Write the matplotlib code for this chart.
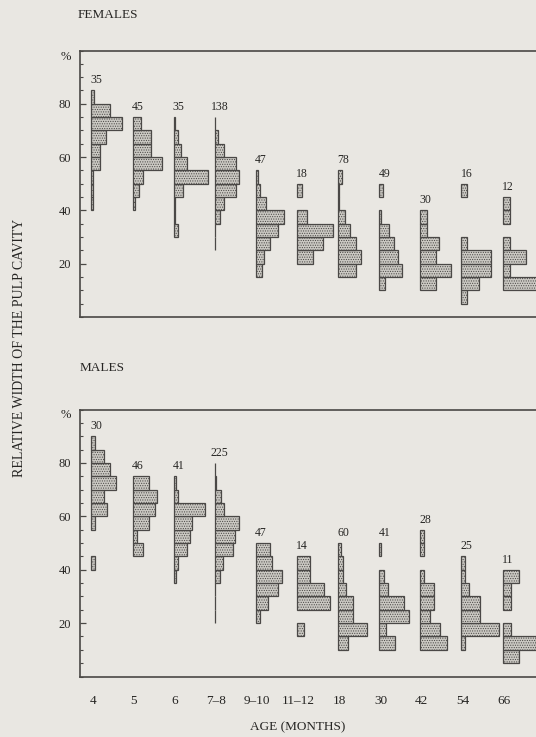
import numpy as np
import matplotlib
matplotlib.use("Agg")
import matplotlib.pyplot as plt
from matplotlib.ticker import MultipleLocator, FixedLocator

# ---------------- data (percent of each age group per 5 % class) ----------------
age_labels = ['4', '5', '6', '7–8', '9–10', '11–12', '18', '30', '42', '54', '66']
female_n = [35, 45, 35, 138, 47, 18, 78, 49, 30, 16, 12]
male_n = [30, 46, 41, 225, 47, 14, 60, 41, 28, 25, 11]
class_width = 5
# lower edge (%) of the first listed class of every histogram
female_first_class = [40, 40, 30, 25, 15, 20, 15, 10, 10, 5, 10]
male_first_class = [40, 45, 35, 20, 20, 15, 10, 10, 10, 10, 5]

# females, classes listed from low to high
female_4 = [1.5, 1.5, 1.5, 9.0, 9.0, 16.0, 33.0, 19.5, 2.9]
female_5 = [2.2, 6.7, 11.1, 31.1, 20.0, 20.0, 8.9]
female_6 = [5.0, 1.5, 1.5, 10.0, 37.3, 14.7, 7.5, 5.0, 1.5]
female_7_8 = [0.7, 0.7, 5.7, 10.4, 22.6, 25.8, 22.6, 10.4, 3.6, 0.7]
female_9_10 = [6.4, 8.5, 14.9, 23.4, 29.8, 10.6, 4.3, 2.1]
female_11_12 = [16.7, 27.8, 38.9, 11.1, 0, 5.6]
female_18 = [19.2, 25.1, 19.5, 12.5, 7.8, 1.3, 1.3, 3.8]
female_30 = [6.1, 24.0, 20.2, 15.6, 10.5, 1.5, 0, 4.1]
female_42 = [16.7, 33.3, 16.7, 20.0, 6.7, 6.7]
female_54 = [6.25, 18.75, 31.25, 31.25, 6.25, 0, 0, 0, 6.25]
female_66 = [41.7, 8.3, 25.0, 8.3, 0, 8.3, 8.3]

# males
male_4 = [3.3, 0, 0, 3.3, 16.7, 13.3, 26.7, 20.0, 13.3, 3.3]
male_5 = [10.9, 4.3, 17.4, 23.9, 26.1, 17.4]
male_6 = [2.4, 4.9, 14.6, 17.1, 19.5, 34.1, 4.9, 2.4]
male_7_8 = [0.4, 0.4, 0.4, 6.0, 8.4, 20.0, 22.0, 26.0, 10.2, 6.8, 1.0, 0.4]
male_9_10 = [4.3, 12.8, 23.4, 27.7, 17.0, 14.9]
male_11_12 = [7.1, 0, 35.7, 28.6, 14.3, 14.3]
male_18 = [11.0, 31.0, 16.5, 16.5, 8.5, 5.5, 5.5, 3.5]
male_30 = [17.1, 7.3, 31.7, 26.8, 9.8, 4.9, 0, 2.4]
male_42 = [28.6, 21.4, 10.7, 14.3, 14.3, 3.6, 0, 3.6, 3.6]
male_54 = [4.0, 40.0, 20.0, 20.0, 8.0, 4.0, 4.0]
male_66 = [18.2, 36.4, 9.1, 0, 9.1, 9.1, 18.2]

female_series = [female_4, female_5, female_6, female_7_8, female_9_10, female_11_12,
                 female_18, female_30, female_42, female_54, female_66]
male_series = [male_4, male_5, male_6, male_7_8, male_9_10, male_11_12,
               male_18, male_30, male_42, male_54, male_66]

# ---------------- style ----------------
plt.rcParams['font.family'] = ['Liberation Serif', 'DejaVu Serif']
plt.rcParams['hatch.color'] = '#8f8d87'
plt.rcParams['hatch.linewidth'] = 0.5
BG = '#e9e7e2'
FILL = '#cbc9c3'
EDGE = '#4a4846'
INK = '#262523'

W, H = 536, 737
fig = plt.figure(figsize=(W / 100, H / 100), dpi=100)
fig.patch.set_facecolor(BG)

PX_PER_UNIT = 0.93          # horizontal pixels per 1 % of bar length
AX_LEFT_PX, AX_RIGHT_PX = 79.5, 560
xmax = (AX_RIGHT_PX - AX_LEFT_PX) / PX_PER_UNIT
group_pos = 12.9 + 44.2 * np.arange(len(age_labels))


def panel(top_px, bottom_px, first_class, series, ns, show_x):
    ax = fig.add_axes([AX_LEFT_PX / W, 1 - bottom_px / H,
                       (AX_RIGHT_PX - AX_LEFT_PX) / W, (bottom_px - top_px) / H])
    ax.set_facecolor(BG)
    ax.set_xlim(0, xmax)
    ax.set_ylim(0, 100)
    for i, (lo, vals, n) in enumerate(zip(first_class, series, ns)):
        vals = np.asarray(vals, dtype=float)
        lows = lo + class_width * np.arange(len(vals))
        m = vals > 0
        ax.barh(lows[m], vals[m], height=class_width, left=group_pos[i], align='edge',
                color=FILL, edgecolor=EDGE, linewidth=0.9, hatch='.......', zorder=2)
        top = lows[m].max() + class_width
        ax.annotate(str(n), (group_pos[i], top), xytext=(5, 10), textcoords='offset pixels',
                    ha='center', va='center', fontsize=8.5, color=INK)
    for s in ax.spines.values():
        s.set_color('#4a4845')
        s.set_linewidth(1.2)
    ax.yaxis.set_major_locator(FixedLocator([20, 40, 60, 80]))
    ax.yaxis.set_minor_locator(MultipleLocator(5))
    ax.tick_params(axis='y', which='major', direction='in', length=4, width=0.9,
                   labelsize=9, pad=6, colors='#4a4845', labelcolor=INK)
    ax.tick_params(axis='y', which='minor', direction='in', length=2.5, width=0.8,
                   colors='#4a4845')
    if show_x:
        ax.set_xticks(group_pos + 1.5)
        ax.set_xticklabels(age_labels)
        ax.tick_params(axis='x', length=0, pad=13, labelsize=9.5, labelcolor=INK)
    else:
        ax.set_xticks([])
    return ax


ax_f = panel(50.5, 317, female_first_class, female_series, female_n, False)
ax_m = panel(409.5, 676.5, male_first_class, male_series, male_n, True)

fig.text(78 / W, 1 - 15 / H, 'FEMALES', ha='left', va='center', fontsize=9.5, color=INK)
fig.text(80 / W, 1 - 368 / H, 'MALES', ha='left', va='center', fontsize=9.5, color=INK)
fig.text(66 / W, 1 - 57 / H, '%', ha='center', va='center', fontsize=9, color=INK)
fig.text(66 / W, 1 - 415 / H, '%', ha='center', va='center', fontsize=9, color=INK)
fig.text(20 / W, 1 - 348 / H, 'RELATIVE WIDTH OF THE PULP CAVITY', rotation=90,
         ha='center', va='center', fontsize=10, color=INK)
fig.text(298 / W, 1 - 727 / H, 'AGE (MONTHS)', ha='center', va='center',
         fontsize=9.5, color=INK)

fig.savefig('out.png', dpi=100, facecolor=BG)
